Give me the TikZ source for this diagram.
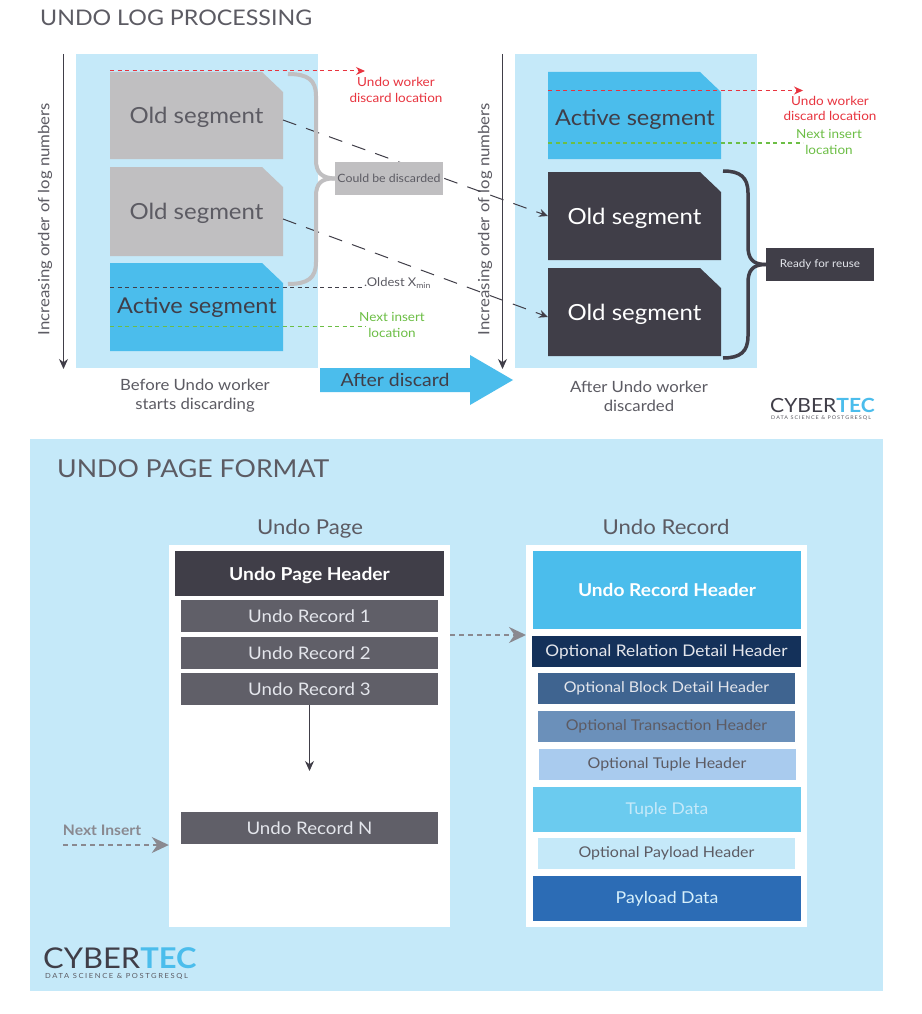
\documentclass[tikz,border=0pt]{standalone}
\usepackage{fontspec}
\setmainfont{Lato}[FakeStretch=1.08]
\usetikzlibrary{arrows.meta,calc}
\definecolor{lightblue}{HTML}{C5E9F9}
\definecolor{skyblue}{HTML}{4BBDEC}
\definecolor{darkseg}{HTML}{403E48}
\definecolor{midseg}{HTML}{605F68}
\definecolor{grayseg}{HTML}{C0BFC1}
\definecolor{inktext}{HTML}{5C5B63}
\definecolor{redline}{HTML}{E8343F}
\definecolor{greenline}{HTML}{6CBE45}
\definecolor{arrowgray}{HTML}{8A8990}
\definecolor{softwhite}{HTML}{E4E6EC}
\definecolor{HTMLa}{HTML}{14315A}
\definecolor{HTMLb}{HTML}{3F6490}
\definecolor{HTMLc}{HTML}{6B90BA}
\definecolor{HTMLd}{HTML}{A9CBEE}
\definecolor{HTMLe}{HTML}{6BCBEF}
\definecolor{HTMLf}{HTML}{2C6CB5}
\newcommand{\fs}[2]{\fontsize{#1}{#2}\selectfont}
\newcommand{\segshape}[8]{% name, x1,y1,x2,y2, fill, textcolor, text
  \fill[#6] (#2,#3) -- ({#4-21},#3) -- (#4,{#3+20}) -- (#4,#5) -- (#2,#5) -- cycle;
  \node[segtext,text=#7] (#1) at ({(#2+#4)/2},{(#3+#5)/2}) {#8};
}
\tikzset{
  x=1pt,y=-1pt,
  segtext/.style={inner sep=0pt,yshift=-2pt,font=\fs{22.2}{27}},
  lab/.style={inner sep=0pt,align=center,font=\fs{12.5}{15.5}},
  head/.style={inner sep=0pt,anchor=west,text=inktext},
  captext/.style={inner sep=0pt,align=center,text=inktext,font=\fs{15.5}{19}},
  axis/.style={draw=darkseg,line width=1.3pt,-{Stealth[length=10pt,width=9pt]}},
  axlabel/.style={inner sep=0pt,rotate=90,text=inktext,font=\fs{15.5}{18}},
  migrate/.style={draw=darkseg,line width=1pt,dash pattern=on 14pt off 10.5pt,-{Stealth[length=9pt,width=8pt]}},
  redmark/.style={draw=redline,line width=1pt,dash pattern=on 4pt off 3.5pt,-{Stealth[length=9pt,width=8pt,fill=redline]}},
  greenmark/.style={draw=greenline,line width=1.1pt,dash pattern=on 4pt off 3.5pt},
  inkmark/.style={draw=darkseg,line width=1pt,dash pattern=on 4pt off 3.5pt},
  pagebar/.style={inner sep=0pt,minimum height=32pt,text=softwhite,font=\fs{17.3}{20}},
  recbar/.style={inner sep=0pt,text=softwhite,font=\fs{14.8}{18}},
  logo/.style={inner sep=0pt,text=darkseg},
  logosub/.style={inner sep=0pt,text=inktext},
  grayflow/.style={draw=arrowgray,line width=1.8pt,dash pattern=on 5pt off 4pt,-{Stealth[length=17pt,width=16pt,fill=arrowgray]}},
}
\begin{document}
\begin{tikzpicture}
\useasboundingbox (0,0) rectangle (921,1014);
\fill[white] (0,0) rectangle (921,1014);

% ---------- top part
\node[head,font=\fs{21.5}{26}] (title1) at (40,18) {UNDO LOG PROCESSING};

\fill[lightblue] (76,54) rectangle (318,368);
\fill[lightblue] (515,54) rectangle (757,368);

\coordinate (axLtop) at (63.5,54); \coordinate (axLbot) at (63.5,369);
\coordinate (axRtop) at (502.5,54);  \coordinate (axRbot) at (502.5,369);
\draw[axis] (axLtop) -- (axLbot);
\draw[axis] (axRtop) -- (axRbot);
\node[axlabel] (axlabL) at (45,219) {Increasing order of log numbers};
\node[axlabel] (axlabR) at (485,219) {Increasing order of log numbers};

% left segments
\segshape{lold1}{110}{72}{283}{159}{grayseg}{inktext}{Old segment}
\segshape{lold2}{110}{167}{283}{256}{grayseg}{inktext}{Old segment}
\segshape{lact}{110}{263}{283}{351}{skyblue}{darkseg}{}
\node[segtext,text=darkseg,font=\fs{21.8}{27}] (lacttext) at (197,305) {Active segment};

% right segments
\segshape{ract}{548}{72}{721}{159}{skyblue}{darkseg}{}
\node[segtext,text=darkseg,font=\fs{21.8}{27}] (racttext) at (635,117) {Active segment};
\segshape{rold1}{548}{172}{721}{260}{darkseg}{white}{Old segment}
\segshape{rold2}{548}{268}{721}{356}{darkseg}{white}{Old segment}

% migration arrows
\coordinate (m1a) at (283,120); \coordinate (m1b) at (548,216);
\coordinate (m2a) at (283,219); \coordinate (m2b) at (548,317);
\draw[migrate] (m1a) -- (m1b);
\draw[migrate] (m2a) -- (m2b);

% markers left
\coordinate (rl1) at (110,71); \coordinate (rl2) at (365,71);
\draw[redmark] (rl1) -- (rl2);
\node[lab,text=redline] (rl) at (396,90) {Undo worker\\discard location};
\coordinate (ol1) at (110,287); \coordinate (ol2) at (364,287);
\draw[inkmark] (ol1) -- (ol2);
\node[inner sep=0pt,anchor=west,text=inktext,font=\fs{12}{14}] (oldest) at (364,283) {.Oldest X\textsubscript{min}};
\coordinate (gl1) at (110,326.5); \coordinate (gl2) at (366,326.5);
\draw[greenmark] (gl1) -- (gl2);
\node[lab,text=greenline] (gl) at (392,325) {Next insert\\location};

% markers right
\coordinate (rr1) at (548,90.5); \coordinate (rr2) at (803,90.5);
\draw[redmark] (rr1) -- (rr2);
\node[lab,text=redline] (rr) at (830,108.5) {Undo worker\\discard location};
\coordinate (gr1) at (548,143); \coordinate (gr2) at (803,143);
\draw[greenmark] (gr1) -- (gr2);
\node[lab,text=greenline] (gr) at (829,142) {Next insert\\location};

% braces
\node[inner sep=0pt,fill=grayseg,minimum width=108pt,minimum height=33pt,text=inktext,font=\fs{11.4}{13}] (discard) at (389,178.5) {Could be discarded};
\draw[grayseg,line width=4pt] (288,74) .. controls (308,74) and (316,80) .. (316,96) -- (316,160) .. controls (316,172) and (321,178) .. (discard.west);
\draw[grayseg,line width=4pt] (288,284) .. controls (308,284) and (316,278) .. (316,262) -- (316,196) .. controls (316,184) and (321,178) .. (discard.west);

\node[inner sep=0pt,fill=darkseg,minimum width=108pt,minimum height=33pt,text=softwhite,font=\fs{10.8}{13}] (reuse) at (820,264.5) {Ready for reuse};
\draw[darkseg,line width=3.5pt] (723,171) .. controls (740,171) and (748,177) .. (748,193) -- (748,246) .. controls (748,258) and (752,264.5) .. (reuse.west);
\draw[darkseg,line width=3.5pt] (723,358) .. controls (740,358) and (748,352) .. (748,336) -- (748,283) .. controls (748,271) and (752,264.5) .. (reuse.west);

% block arrow
\fill[skyblue] (320,368) -- (470,368) -- (470,355) -- (513,380) -- (470,405) -- (470,392) -- (320,392) -- cycle;
\node[inner sep=0pt,text=darkseg,font=\fs{18}{22}] (after) at (395,380) {After discard};

\node[captext] (capL) at (195,396) {Before Undo worker\\starts discarding};
\node[captext] (capR) at (639,396) {After Undo worker\\discarded};

% logo top
\node[logo,anchor=west,font=\fs{19.5}{24}] (logo1) at (770,405.5) {CYBER\textcolor{skyblue}{\textbf{TEC}}};
\node[logosub,anchor=west,font=\fs{5}{6}\addfontfeature{LetterSpace=21}] (logo1s) at (771,418.5) {DATA SCIENCE \& POSTGRESQL};

% ---------- bottom part
\fill[lightblue] (30,439) rectangle (883,991);
\node[head,font=\fs{24.7}{29}] (title2) at (57,468.5) {UNDO PAGE FORMAT};
\node[inner sep=0pt,text=inktext,font=\fs{20.5}{25}] (pagehead) at (310,528.5) {Undo Page};
\node[inner sep=0pt,text=inktext,font=\fs{20.5}{25}] (rechead) at (666,527.5) {Undo Record};

\node[fill=white,inner sep=0pt,minimum width=281pt,minimum height=382pt] (page) at (309.5,736) {};
\node[fill=white,inner sep=0pt,minimum width=281pt,minimum height=382pt] (record) at (666.5,736) {};

\node[pagebar,fill=darkseg,minimum width=269pt,minimum height=45pt,text=white,font=\bfseries\fs{17.8}{21},text depth=1pt,text height=15pt] (uph) at (309.5,573.5) {Undo Page Header};
\node[pagebar,fill=midseg,minimum width=257pt] (ur1) at (309.5,616) {Undo Record 1};
\node[pagebar,fill=midseg,minimum width=257pt] (ur2) at (309.5,653) {Undo Record 2};
\node[pagebar,fill=midseg,minimum width=257pt] (ur3) at (309.5,689) {Undo Record 3};
\node[pagebar,fill=midseg,minimum width=257pt] (urn) at (309.5,828) {Undo Record N};
\coordinate (dnend) at (309.5,771);
\draw[axis] (ur3.south) -- (dnend);

\node[recbar,fill=skyblue,minimum width=268pt,minimum height=78pt,text=white,font=\bfseries\fs{17.7}{21}] (rh) at (667,590) {\raisebox{-1.5pt}{Undo Record Header}};
\node[recbar,fill=HTMLa,minimum width=269pt,minimum height=31pt,font=\fs{16}{19}] (r1) at (666.5,651.5) {Optional Relation Detail Header};
\node[recbar,fill=HTMLb,minimum width=257pt,minimum height=31pt] (r2) at (666.5,688.5) {\raisebox{-1pt}{Optional Block Detail Header}};
\node[recbar,fill=HTMLc,minimum width=257pt,minimum height=31pt,text=darkseg!85] (r3) at (666.5,726.5) {\raisebox{-1pt}{Optional Transaction Header}};
\node[recbar,fill=HTMLd,minimum width=257pt,minimum height=31pt,text=inktext] (r4) at (667,764.5) {\raisebox{-1pt}{Optional Tuple Header}};
\node[recbar,fill=HTMLe,minimum width=268pt,minimum height=45pt,text=lightblue,font=\fs{16.2}{19}] (r5) at (667,809.5) {Tuple Data};
\node[recbar,fill=lightblue,minimum width=257pt,minimum height=31pt,text=inktext] (r6) at (666.5,853.5) {\raisebox{-1.5pt}{Optional Payload Header}};
\node[recbar,fill=HTMLf,minimum width=268pt,minimum height=45pt,text=lightblue!70!white,font=\fs{16.4}{19}] (r7) at (667,898.5) {Payload Data};

\coordinate (linkA) at (450,635);
\draw[grayflow] (linkA) -- (526,635);
\node[inner sep=0pt,text=arrowgray,font=\bfseries\fs{14.5}{17}] (nextins) at (102,830) {Next Insert};
\coordinate (nextA) at (63,845);
\draw[grayflow] (nextA) -- (page.west |- nextA);

\node[logo,anchor=west,font=\fs{28.6}{34}] (logo2) at (43,958) {CYBER\textcolor{skyblue}{\textbf{TEC}}};
\node[logosub,anchor=west,font=\fs{7}{8}\addfontfeature{LetterSpace=23}] (logo2s) at (45,976) {DATA SCIENCE \& POSTGRESQL};
\end{tikzpicture}
\end{document}
